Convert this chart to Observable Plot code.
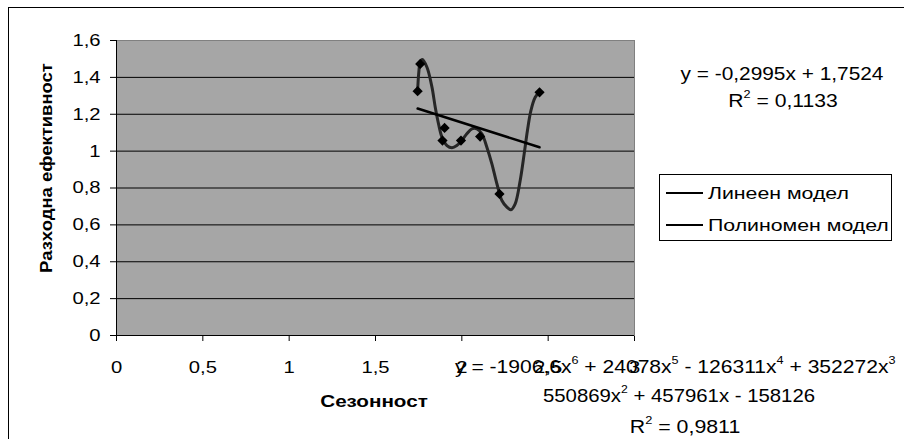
<!DOCTYPE html>
<html lang="bg"><head><meta charset="utf-8">
<script src="https://cdn.jsdelivr.net/npm/d3@7"></script>
<script src="https://cdn.jsdelivr.net/npm/@observablehq/plot@0.6"></script>
<style>
html,body{margin:0;padding:0;background:#fff;}
#chart{position:relative;width:904px;height:439px;overflow:hidden;font-family:"Liberation Sans",Arial,sans-serif;color:#000;background:#fff;}
#chart svg{position:absolute;left:0;top:0;}
.lbl{position:absolute;white-space:nowrap;line-height:1;}
.lbl sup{font-size:0.6em;line-height:0;vertical-align:0.75em;}
#border{position:absolute;left:8px;top:7px;width:1000px;height:1000px;border:1px solid #000;pointer-events:none;}
#legend{position:absolute;left:659px;top:174px;width:231px;height:65px;border:1px solid #000;background:#fff;}
.swatch{position:absolute;left:666px;width:37px;height:2px;background:#000;}
</style></head>
<body><div id="chart"></div>
<script>
// ---- data ----
const xTicks = [0, 0.5, 1, 1.5, 2, 2.5, 3];
const xTickLabels = ["0", "0,5", "1", "1,5", "2", "2,5", "3"];
const yTicks = [0, 0.2, 0.4, 0.6, 0.8, 1, 1.2, 1.4, 1.6];
const yTickLabels = ["0", "0,2", "0,4", "0,6", "0,8", "1", "1,2", "1,4", "1,6"];
const gridY = [0.2, 0.4, 0.6, 0.8, 1, 1.2, 1.4];

const pointX = [1.744, 1.759, 1.888, 1.900, 1.995, 2.106, 2.218, 2.450];
const pointY = [1.325, 1.473, 1.057, 1.126, 1.057, 1.079, 0.768, 1.319];

const linearX = [1.744, 2.450];
const linearY = [1.231, 1.021];

const polyX = [1.744, 1.750, 1.759, 1.771, 1.798, 1.827, 1.846, 1.865, 1.885, 1.914, 1.943, 1.971, 2.000, 2.029, 2.058, 2.087, 2.116, 2.145, 2.174, 2.203, 2.232, 2.261, 2.284, 2.309, 2.338, 2.361, 2.380, 2.400, 2.425, 2.450];
const polyY = [1.325, 1.419, 1.482, 1.497, 1.455, 1.347, 1.238, 1.148, 1.076, 1.030, 1.018, 1.030, 1.058, 1.094, 1.121, 1.121, 1.094, 1.021, 0.931, 0.823, 0.732, 0.696, 0.682, 0.714, 0.841, 0.985, 1.112, 1.220, 1.292, 1.320];

const xTitle = "Сезонност";
const yTitle = "Разходна ефективност";
const legendLabels = ["Линеен модел", "Полиномен модел"];
const linearEq = ["y = -0,2995x + 1,7524", "R<sup>2</sup> = 0,1133"];
const polyEq = [
  "y = -1906,6x<sup>6</sup> + 24078x<sup>5</sup> - 126311x<sup>4</sup> + 352272x<sup>3</sup>",
  "550869x<sup>2</sup> + 457961x - 158126",
  "R<sup>2</sup> = 0,9811"
];

// ---- tables built from the arrays ----
const points = pointX.map((x, i) => ({x, y: pointY[i]}));
const linear = linearX.map((x, i) => ({x, y: linearY[i]}));
const poly = polyX.map((x, i) => ({x, y: polyY[i]}));

const chart = document.getElementById("chart");
const plot = Plot.plot({
  width: 904, height: 439,
  marginLeft: 116, marginRight: 270, marginTop: 40, marginBottom: 104,
  style: {fontFamily: '"Liberation Sans", Arial, sans-serif', fontSize: "17px", color: "#000", background: "none"},
  x: {domain: [0, 3], ticks: xTicks, tickFormat: d => xTickLabels[xTicks.indexOf(d)], tickSize: 6, tickPadding: 19, label: null},
  y: {domain: [0, 1.6], ticks: yTicks, tickFormat: d => yTickLabels[yTicks.indexOf(d)], tickSize: 6, tickPadding: 10, label: null},
  marks: [
    Plot.frame({fill: "#a6a6a6", stroke: "#808080"}),
    Plot.ruleY(gridY, {stroke: "#000", strokeWidth: 1}),
    Plot.ruleX([0], {stroke: "#000"}),
    Plot.ruleY([0], {stroke: "#000"}),
    Plot.line(poly, {x: "x", y: "y", curve: "catmull-rom", stroke: "#262626", strokeWidth: 3}),
    Plot.line(linear, {x: "x", y: "y", stroke: "#000", strokeWidth: 2.5}),
    Plot.dot(points, {x: "x", y: "y", symbol: "diamond2", r: 4.6, fill: "#000", stroke: "none"})
  ]
});
chart.appendChild(plot);

// stretch tick labels horizontally like the reference rendering
const k = 1.19;
plot.querySelectorAll('g[aria-label*="axis"] text').forEach(t => {
  const ax = +t.getAttribute("x") || 0;
  const prev = t.getAttribute("transform") || "";
  t.setAttribute("transform", `${prev} translate(${ax},0) scale(${k},1) translate(${-ax},0)`);
});

function addText(html, {x, y, anchor = "middle", width, size, bold = false, rotate = 0}) {
  const el = document.createElement("div");
  el.className = "lbl";
  el.innerHTML = html;
  el.style.fontSize = size + "px";
  if (bold) el.style.fontWeight = "bold";
  chart.appendChild(el);
  const w = el.offsetWidth;
  const s = width ? width / w : 1;
  const tx = anchor === "start" ? 0 : anchor === "end" ? -100 : -50;
  el.style.left = x + "px";
  el.style.top = y + "px";
  el.style.transformOrigin = "0 0";
  el.style.transform = `rotate(${rotate}deg) scaleX(${s}) translate(${tx}%, -50%)`;
  return el;
}

// legend
const legend = document.createElement("div");
legend.id = "legend";
chart.appendChild(legend);
[193, 225].forEach((yy, i) => {
  const sw = document.createElement("div");
  sw.className = "swatch";
  sw.style.top = (yy - 1) + "px";
  chart.appendChild(sw);
  addText(legendLabels[i], {x: 708, y: yy + 1, anchor: "start", width: i === 0 ? 141 : 181, size: 16});
});

// axis titles
addText(yTitle, {x: 47, y: 168, width: 210, size: 16, bold: true, rotate: -90});
addText(xTitle, {x: 374, y: 401, width: 108, size: 17, bold: true});

// trendline equations
addText(linearEq[0], {x: 781.5, y: 73, width: 203, size: 19});
addText(linearEq[1], {x: 782.5, y: 100, width: 109, size: 19});
addText(polyEq[0], {x: 455, y: 366, anchor: "start", width: 440, size: 19});
addText(polyEq[1], {x: 679, y: 395, width: 272, size: 19});
addText(polyEq[2], {x: 685, y: 426, width: 110, size: 19});

const border = document.createElement("div");
border.id = "border";
chart.appendChild(border);
</script>
</body></html>
